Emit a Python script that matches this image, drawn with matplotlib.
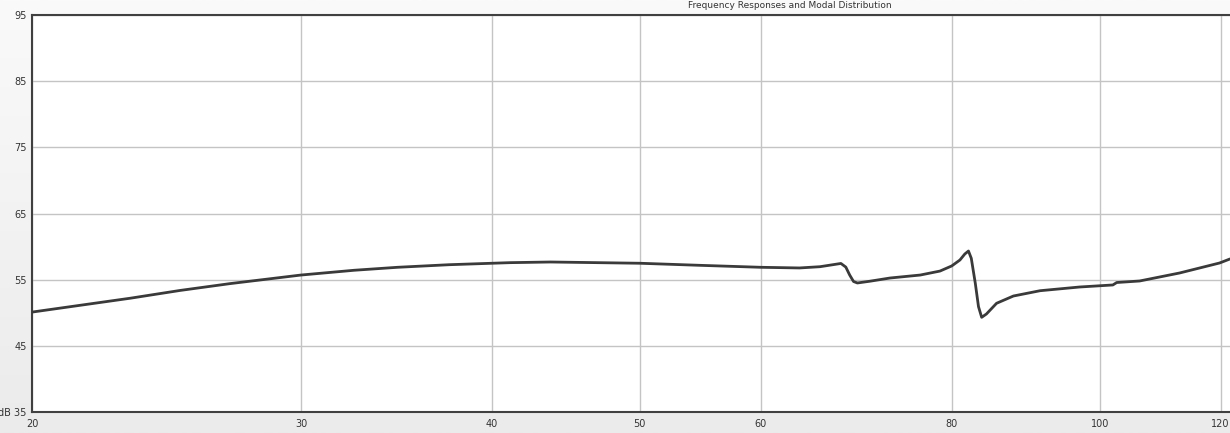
import numpy as np
import matplotlib
matplotlib.use("Agg")
import matplotlib.pyplot as plt

# frequency response (Hz, dB)
freq = [20.0, 23.2, 25.0, 26.95, 28.2, 30.0, 32.5, 34.7, 37.5, 40.0, 41.1, 43.7, 50.0,
        54.7, 60.0, 63.6, 65.6, 67.7, 68.2, 68.6, 69.0, 69.4, 70.7, 72.9, 76.3, 78.6,
        80.0, 81.0, 81.6, 82.05, 82.4, 82.9, 83.3, 83.7, 84.3, 85.6, 87.8, 91.4, 97.0,
        102.0, 102.6, 106.2, 112.8, 119.8, 121.7]
spl = [50.1, 52.2, 53.37, 54.4, 54.95, 55.7, 56.42, 56.87, 57.26, 57.48, 57.57, 57.67, 57.48,
       57.17, 56.87, 56.77, 56.96, 57.45, 56.9, 55.7, 54.72, 54.5, 54.76, 55.25, 55.7, 56.3,
       57.07, 57.97, 58.88, 59.33, 58.23, 54.45, 50.92, 49.31, 49.81, 51.43, 52.53, 53.33, 53.89,
       54.2, 54.57, 54.8, 56.01, 57.52, 58.13]

xticks = [20, 30, 40, 50, 60, 80, 100, 120]
yticks = [35, 45, 55, 65, 75, 85, 95]
ylabels = ["dB 35", "45", "55", "65", "75", "85", "95"]

fig = plt.figure(figsize=(12.3, 4.33), dpi=100)

# light grey background, slightly lighter at the top
bg = fig.add_axes([0, 0, 1, 1], zorder=-1)
grad = np.linspace(0, 1, 256).reshape(-1, 1)
bg.imshow(grad, aspect="auto", cmap=matplotlib.colors.LinearSegmentedColormap.from_list(
    "bg", ["#fafafa", "#ebebeb"]), extent=[0, 1, 0, 1])
bg.axis("off")

ax = fig.add_axes([32 / 1230, 1 - 412 / 433, 1 - 32 / 1230, 397 / 433])
ax.set_facecolor("white")
ax.plot(freq, spl, color="#3a3a3a", lw=2, solid_capstyle="round",
        solid_joinstyle="round", zorder=3)

ax.set_xscale("log")
ax.set_xlim(20, 121.7)
ax.set_ylim(35, 95)
ax.set_xticks(xticks)
ax.set_xticklabels([str(t) for t in xticks])
ax.xaxis.set_minor_locator(matplotlib.ticker.NullLocator())
ax.set_yticks(yticks)
ax.set_yticklabels(ylabels)
ax.tick_params(length=0, labelsize=7, labelcolor="#333333")
ax.tick_params(axis="y", pad=4)
ax.tick_params(axis="x", pad=5)
ax.grid(True, color="#c4c4c4", lw=1)
ax.set_axisbelow(True)

for s in ["left", "bottom", "top"]:
    ax.spines[s].set_color("#404040")
    ax.spines[s].set_linewidth(1.5)
ax.spines["right"].set_visible(False)

fig.text(790 / 1230, 1 - 6 / 433, "Frequency Responses and Modal Distribution",
         ha="center", va="center", fontsize=6.5, color="#333333")

fig.savefig("out.png", dpi=100)
